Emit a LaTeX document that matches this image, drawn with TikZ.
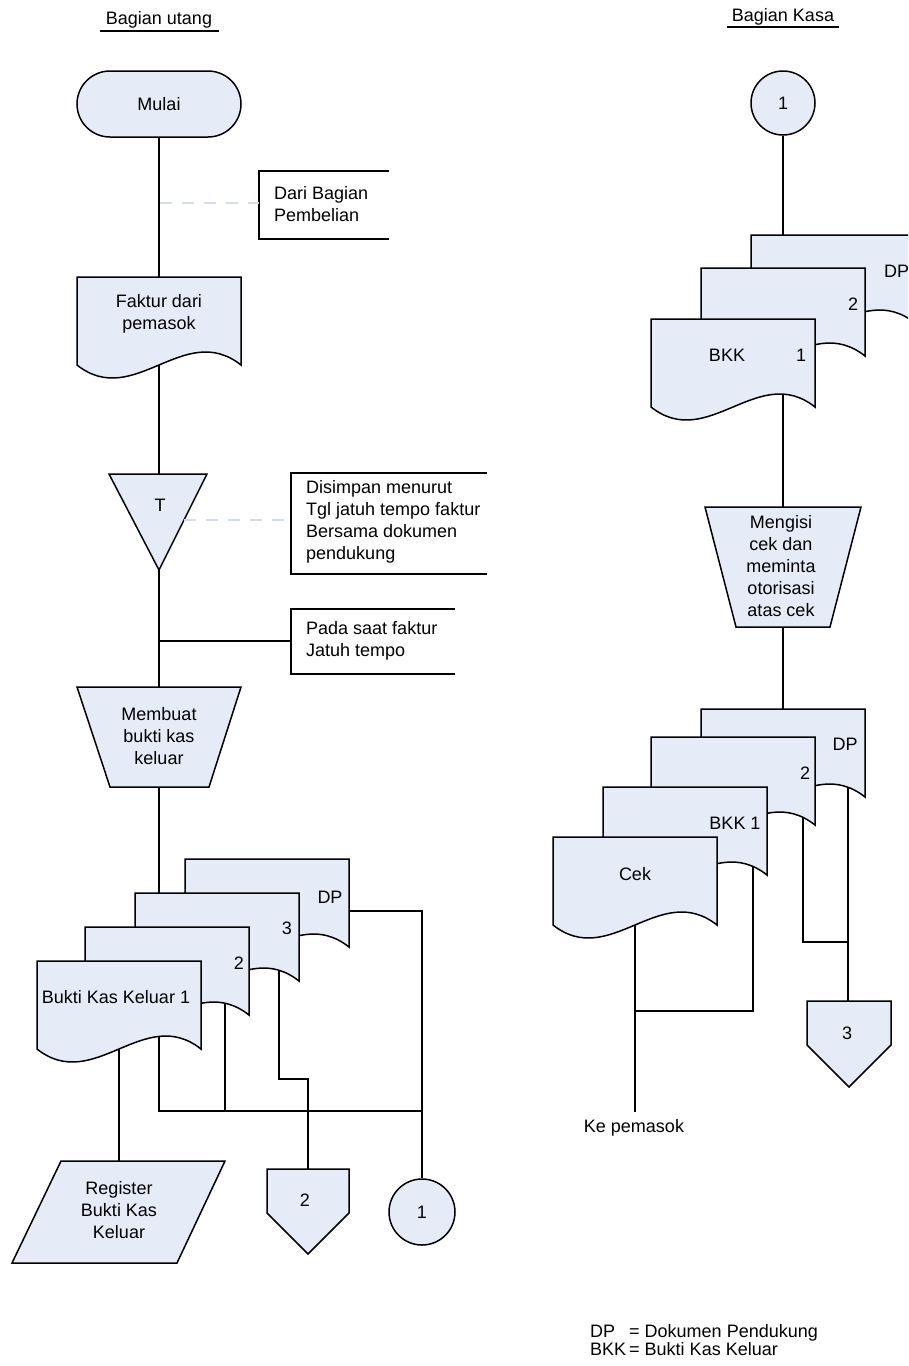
\documentclass[tikz,border=0pt]{standalone}
\usepackage{fontspec}
\setmainfont{Liberation Sans}
\usetikzlibrary{backgrounds}
\definecolor{shapefill}{RGB}{230,236,247}
\definecolor{dashgray}{RGB}{212,221,236}
\tikzset{
  conn/.style={draw=black, line width=1.5pt, line join=miter},
  shp/.style={draw=black, line width=1.5pt, fill=shapefill, line join=miter},
  lbl/.style={font=\fontsize{18}{22}\selectfont, inner sep=0pt, align=center},
  lbll/.style={font=\fontsize{18}{22}\selectfont, inner sep=0pt, align=left},
  dashcon/.style={draw=dashgray, line width=1.2pt, dash pattern=on 12pt off 10pt},
  bracket/.style={draw=black, line width=1.5pt},
  uline/.style={draw=black, line width=1.3pt},
}
% document symbol, top-left corner at (#1,#2), 164 wide, 88 high sides
\newcommand\docshape[2]{%
  \path[shp] (#1,#2) -- (#1+164,#2) -- (#1+164,#2+88)
    .. controls (#1+107,#2+43) and (#1+57,#2+133) .. (#1,#2+88) -- cycle;}
\begin{document}
\begin{tikzpicture}[x=1pt,y=-1pt]
\useasboundingbox (0,0) rectangle (908,1366);
\clip (0,0) rectangle (908,1366);

% ---------- titles ----------
\node[lbl] (title1) at (159,20) {Bagian utang};
\coordinate (u1a) at (100,31);
\coordinate (u1b) at (219,31);
\draw[uline] (u1a) -- (u1b);
\node[lbl] (title2) at (783,17) {Bagian Kasa};
\coordinate (u2a) at (727,27);
\coordinate (u2b) at (839,27);
\draw[uline] (u2a) -- (u2b);

% ---------- left column: Bagian utang ----------
\node[shp, lbl, rounded corners=33pt, minimum width=164pt, minimum height=66pt] (mulai) at (159,104) {Mulai};

\draw[bracket] (389,171) -- (259,171) -- (259,239) -- (389,239);
\node[lbll, anchor=west] (ann1) at (274,204) {Dari Bagian\\Pembelian};
\coordinate (ann1-l) at (259,203);
\coordinate (ml1) at (160,203);
\draw[dashcon] (ml1) -- (ann1-l);

\docshape{77}{277}
\node[lbl] (faktur) at (159,314) {Faktur dari\\pemasok};
\coordinate (faktur-top) at (159,277);
\coordinate (faktur-in) at (159,340);

\path[shp] (109,474) -- (207,474) -- (159,570) -- cycle;
\node[lbl] (tri) at (160,505) {T};
\coordinate (tri-top) at (159,474);
\coordinate (tri-bot) at (159,570);
\coordinate (tri-r) at (184,520);

\draw[bracket] (487,473) -- (291,473) -- (291,574) -- (487,574);
\node[lbll, anchor=west] (ann2) at (306,522) {Disimpan menurut\\Tgl jatuh tempo faktur\\Bersama dokumen\\pendukung};
\coordinate (ann2-l) at (291,520);
\draw[dashcon] (tri-r) -- (ann2-l);

\draw[bracket] (455,609) -- (291,609) -- (291,674) -- (455,674);
\node[lbll, anchor=west] (ann3) at (306,641) {Pada saat faktur\\Jatuh tempo};
\coordinate (ann3-l) at (291,641);
\coordinate (br) at (159,641);

\path[shp] (77,687) -- (241,687) -- (209,787) -- (110,787) -- cycle;
\node[lbl] (mop1) at (159,736) {Membuat\\bukti kas\\keluar};
\coordinate (mop1-top) at (159,687);
\coordinate (mop1-bot) at (159,787);

% document stack (left)
\docshape{185}{859}
\node[lbl] (ldp) at (330,897) {DP};
\docshape{135}{893}
\node[lbl] (l3) at (287,928) {3};
\docshape{85}{927}
\node[lbl] (l2) at (239,963) {2};
\docshape{37}{961}
\node[lbl] (lbkk) at (116,997) {Bukti Kas Keluar 1};
\coordinate (d3-top) at (159,893);
\coordinate (dp-r) at (340,911);
\coordinate (d3-a) at (279,960);
\coordinate (d2-a) at (225,990);
\coordinate (bkk-a) at (119,1030);
\coordinate (bkk-b) at (159,1020);

\path[shp] (61,1161) -- (225,1161) -- (177,1263) -- (12,1263) -- cycle;
\node[lbl] (reg) at (119,1210) {Register\\Bukti Kas\\Keluar};
\coordinate (reg-top) at (119,1161);

\path[shp] (267,1169) -- (349,1169) -- (349,1213) -- (308,1254) -- (267,1213) -- cycle;
\node[lbl] (off2) at (305,1200) {2};
\coordinate (p2-top) at (308,1169);
\coordinate (p2-bend) at (308,1079);

\node[shp, lbl, circle, minimum size=66pt] (c1) at (422,1212) {1};
\coordinate (jn1) at (422,1111);
\coordinate (d2-j) at (225,1111);

% ---------- right column: Bagian Kasa ----------
\node[shp, lbl, circle, minimum size=64pt] (c1r) at (783,103) {1};

\docshape{751}{235}
\node[lbl, anchor=west] (rdp) at (884,271) {DP};
\docshape{701}{268}
\node[lbl] (r2) at (853,304) {2};
\docshape{651}{319}
\node[lbl] (rbkk) at (727,355) {BKK};
\node[lbl] (rbkk1) at (801,355) {1};
\coordinate (rdp-top) at (783,235);
\coordinate (rbkk-a) at (783,380);

\path[shp] (705,507) -- (861,507) -- (830,627) -- (736,627) -- cycle;
\node[lbl] (mop2) at (781,566) {Mengisi\\cek dan\\meminta\\otorisasi\\atas cek};
\coordinate (mop2-top) at (783,507);
\coordinate (mop2-bot) at (783,627);

\docshape{701}{709}
\node[lbl] (bdp) at (845,744) {DP};
\docshape{651}{737}
\node[lbl] (b2) at (805,773) {2};
\docshape{603}{787}
\node[lbl] (bbkk) at (735,823) {BKK 1};
\docshape{553}{837}
\node[lbl] (cek) at (635,874) {Cek};
\coordinate (rdp2-top) at (783,709);
\coordinate (rdp2-a) at (848,770);
\coordinate (rd2-a) at (803,800);
\coordinate (rd2-j) at (848,942);
\coordinate (rbk-a) at (753,850);
\coordinate (rbk-j) at (635,1011);
\coordinate (cek-a) at (635,900);
\coordinate (cek-end) at (635,1112);

\path[shp] (807,1001) -- (891,1001) -- (891,1045) -- (849,1087) -- (807,1045) -- cycle;
\node[lbl] (off3) at (847,1033) {3};
\coordinate (p3-top) at (848,1001);

\node[lbl] (kepem) at (634,1128) {Ke pemasok};

\node[lbll, anchor=west] (legend) at (590,1342) {%
  \begin{tabular}{@{}l@{\,}l@{}}DP & = Dokumen Pendukung\\[-4pt] BKK & = Bukti Kas Keluar\end{tabular}};

% ---------- connectors (behind shapes) ----------
\begin{scope}[on background layer]
\draw[conn] (mulai.south) -- (faktur-top);
\draw[conn] (faktur-in) -- (tri-top);
\draw[conn] (tri-bot) -- (mop1-top);
\draw[conn] (br) -- (ann3-l);
\draw[conn] (mop1-bot) -- (d3-top);
\draw[conn] (bkk-a) -- (reg-top);
\draw[conn] (bkk-b) |- (jn1);
\draw[conn] (d2-a) -- (d2-j);
\draw[conn] (d3-a) |- (p2-bend) -- (p2-top);
\draw[conn] (dp-r) -| (c1.north);

\draw[conn] (c1r.south) -- (rdp-top);
\draw[conn] (rbkk-a) -- (mop2-top);
\draw[conn] (mop2-bot) -- (rdp2-top);
\draw[conn] (rdp2-a) -- (p3-top);
\draw[conn] (rd2-a) |- (rd2-j);
\draw[conn] (rbk-a) |- (rbk-j);
\draw[conn] (cek-a) -- (cek-end);
\end{scope}
\end{tikzpicture}
\end{document}
